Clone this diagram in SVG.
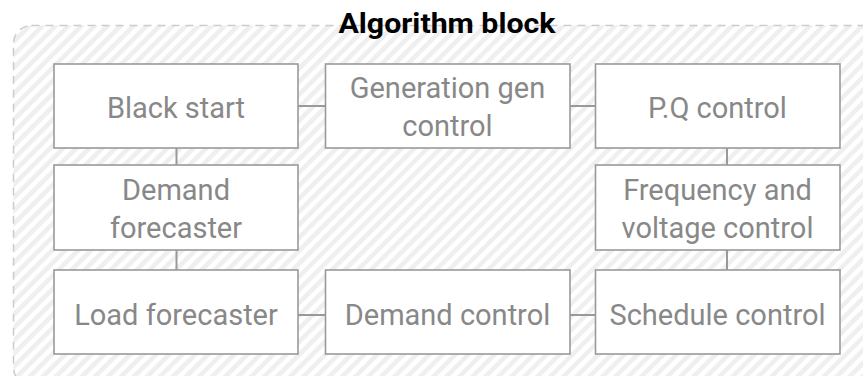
<svg xmlns="http://www.w3.org/2000/svg" width="863" height="376" viewBox="0 0 863 376">
  <defs>
    <pattern id="hatch" patternUnits="userSpaceOnUse" width="9.2" height="9.2" patternTransform="rotate(45)">
      <rect x="0" y="0" width="9.2" height="9.2" fill="#ffffff"/>
      <rect x="0" y="0" width="4.6" height="9.2" fill="#efefef"/>
    </pattern>
    <style>
      .box { fill: #ffffff; stroke: #999999; stroke-width: 1.6; }
      .lbl { font-family: Roboto, "Liberation Sans", sans-serif; font-size: 29px; fill: #888888; text-anchor: middle; }
      .title { font-family: Roboto, "Liberation Sans", sans-serif; font-size: 28px; font-weight: bold; fill: #000000; text-anchor: middle; }
      .conn { stroke: #999999; stroke-width: 2; fill: none; }
    </style>
  </defs>

  <g id="container">
    <rect x="13.5" y="25.5" width="880" height="360" rx="18" ry="18" fill="url(#hatch)" stroke="#cccccc" stroke-width="1.5" stroke-dasharray="8 6"/>
    <text class="title" x="447" y="33" textLength="217" lengthAdjust="spacingAndGlyphs">Algorithm block</text>
  </g>

  <g id="connectors">
    <line class="conn" x1="298" y1="106" x2="325" y2="106"/>
    <line class="conn" x1="570" y1="106" x2="595" y2="106"/>
    <line class="conn" x1="176.5" y1="148" x2="176.5" y2="165"/>
    <line class="conn" x1="176.5" y1="250" x2="176.5" y2="270"/>
    <line class="conn" x1="727" y1="148" x2="727" y2="165"/>
    <line class="conn" x1="727" y1="250" x2="727" y2="270"/>
    <line class="conn" x1="298" y1="315" x2="325" y2="315"/>
    <line class="conn" x1="570" y1="315" x2="595" y2="315"/>
  </g>

  <g id="black-start">
    <rect class="box" x="54" y="64" width="244" height="84"/>
    <text class="lbl" x="176" y="118">Black start</text>
  </g>
  <g id="generation-gen-control">
    <rect class="box" x="325.5" y="64" width="244.5" height="84"/>
    <text class="lbl" x="447.5" y="98">Generation gen</text>
    <text class="lbl" x="447.5" y="136">control</text>
  </g>
  <g id="pq-control">
    <rect class="box" x="595.5" y="64" width="244.5" height="84"/>
    <text class="lbl" x="717.5" y="118">P.Q control</text>
  </g>
  <g id="demand-forecaster">
    <rect class="box" x="54" y="165" width="244" height="85"/>
    <text class="lbl" x="176" y="200">Demand</text>
    <text class="lbl" x="176" y="238">forecaster</text>
  </g>
  <g id="frequency-voltage-control">
    <rect class="box" x="595.5" y="165" width="244.5" height="85"/>
    <text class="lbl" x="717.5" y="200">Frequency and</text>
    <text class="lbl" x="717.5" y="238">voltage control</text>
  </g>
  <g id="load-forecaster">
    <rect class="box" x="54" y="270" width="244" height="84"/>
    <text class="lbl" x="176" y="325">Load forecaster</text>
  </g>
  <g id="demand-control">
    <rect class="box" x="325.5" y="270" width="244.5" height="84"/>
    <text class="lbl" x="447.5" y="325">Demand control</text>
  </g>
  <g id="schedule-control">
    <rect class="box" x="595.5" y="270" width="244.5" height="84"/>
    <text class="lbl" x="717.5" y="325">Schedule control</text>
  </g>
</svg>
